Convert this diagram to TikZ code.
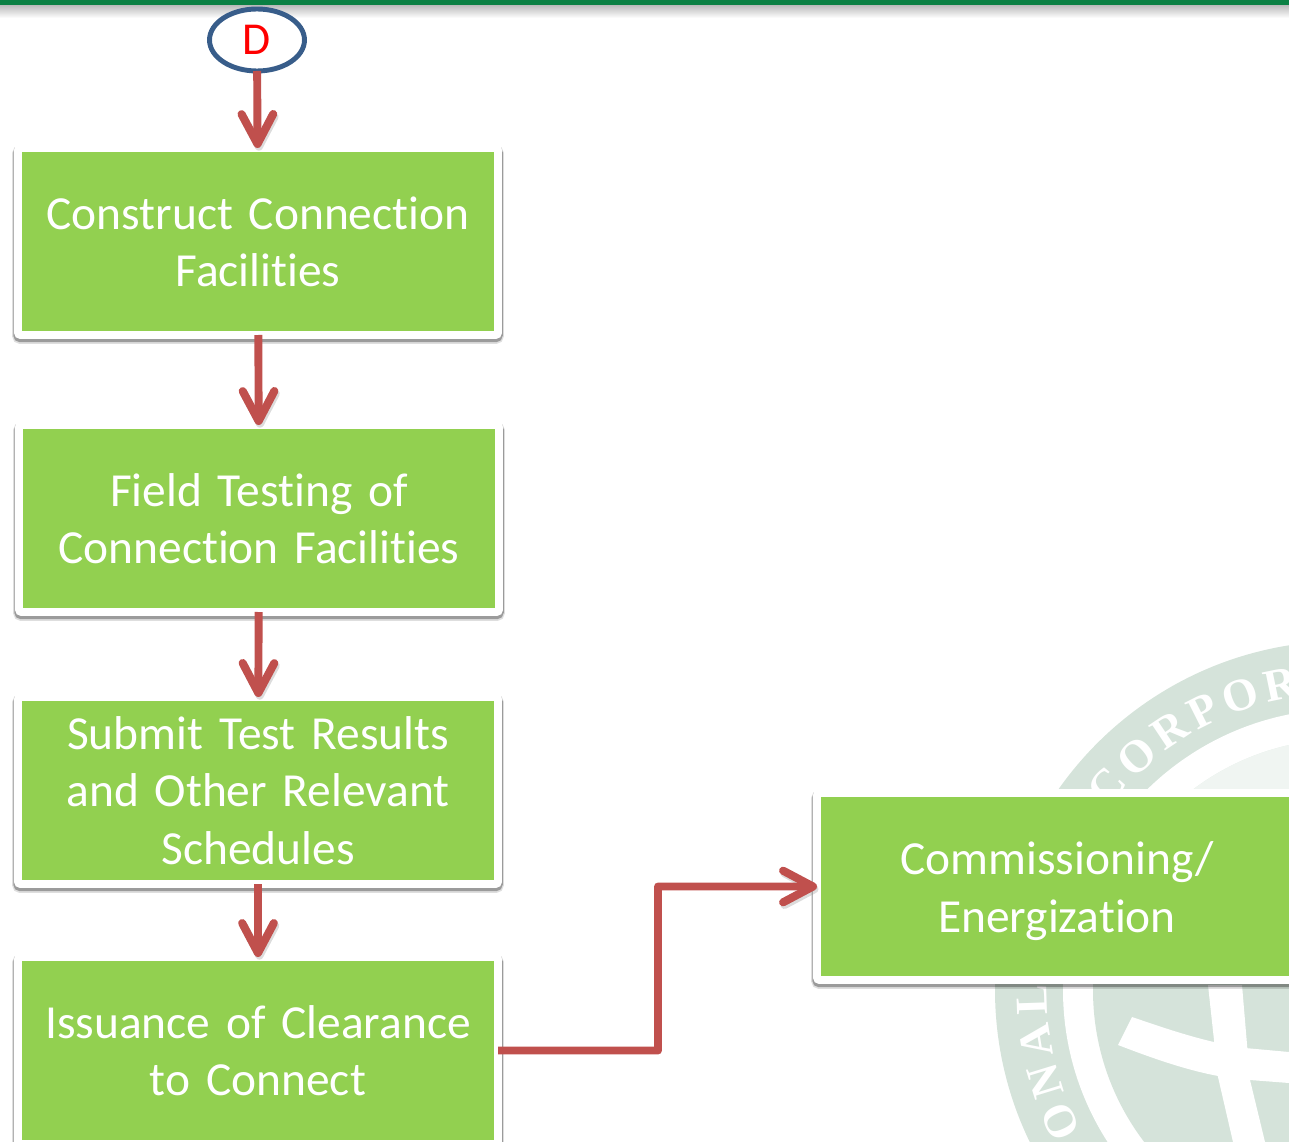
\documentclass[tikz,border=0pt]{standalone}
\usepackage{fontspec}
\setmainfont{Carlito}[Ligatures=NoCommon, WordSpace=0.75]
\newfontfamily\sealfont{Liberation Serif}
\usetikzlibrary{arrows.meta}
\usetikzlibrary{shapes}
\usetikzlibrary{decorations.text}
\definecolor{boxgreen}{HTML}{92D050}
\definecolor{linkred}{HTML}{C0504D}
\definecolor{ovalblue}{HTML}{385D8A}
\definecolor{bandgreen}{HTML}{0B8043}
\definecolor{sealgreen}{HTML}{D5E3DA}
\tikzstyle{block} = [draw=white, fill=boxgreen, rectangle, line width=4.5pt,
    rounded corners=1.5pt, outer sep=0pt, minimum height=3.74cm, minimum width=9.6cm,
    text width=9.2cm, align=center, text=white,
    font=\fontsize{27}{32.6}\selectfont,
    preaction={draw=black, line width=6.6pt, opacity=.13, transform canvas={yshift=-1.8pt}},
    preaction={draw=black, line width=5.4pt, opacity=.3, transform canvas={yshift=-1.4pt}}]
\tikzstyle{link} = [draw=linkred, line width=4.5pt, line join=round,
    -{Straight Barb[length=17pt, width=18pt, line cap=round, round, line width=4.6pt]},
    preaction={draw=black!45, opacity=.3, transform canvas={xshift=.8pt, yshift=-1.5pt}}]
\tikzstyle{connector} = [draw=ovalblue, fill=white, ellipse, line width=2.8pt, outer sep=0pt,
    minimum width=1.9cm, minimum height=1.24cm, inner sep=0pt, text=red,
    font=\fontsize{26}{28}\selectfont]

\begin{document}
\begin{tikzpicture}[node distance=5.54cm,>=latex]
    \clip (0,0) rectangle (25.78,-22.84);
    % seal behind the flow
    \fill [sealgreen] (26.88,-19.8) circle (6.98cm);
    \fill [white] (26.88,-19.8) circle (5.62cm);
    \fill [sealgreen] (26.88,-19.8) circle (5.02cm);
    \begin{scope}
        \clip (20,-12) rectangle (25.78,-15.9);
        \fill [white, opacity=.65] (26.88,-19.8) circle (5.02cm);
    \end{scope}
    \fill [white] (24.16,-19.7) -- (24.84,-19.7) -- (25,-21.6) -- (25.3,-22.84) -- (24.66,-22.84) -- (24.36,-21.54) -- cycle;
    \fill [white] (22.64,-20.34) -- (22.36,-20.9) .. controls (23.4,-21.3) and (24.2,-21.55) .. (25,-21.6)
        -- (25.78,-21.66) -- (25.78,-21.04) -- (24.9,-20.96) .. controls (24.1,-20.84) and (23.4,-20.6) .. (22.64,-20.34) -- cycle;
    \path [decorate, decoration={text along path, text align=fit to path,
        text={|\fontsize{26}{26}\sealfont\bfseries\color{white}|CORPOR}}]
        (26.88,-19.8) ++(142.5:5.95cm) arc (142.5:98.5:5.95cm);
    \path [decorate, decoration={text along path, text align=fit to path,
        text={|\fontsize{26}{26}\sealfont\bfseries\color{white}|ONAL}}]
        (26.88,-19.8) ++(208.4:5.95cm) arc (208.4:178.9:5.95cm);
    % top band
    \fill [bandgreen] (0,0) rectangle (25.78,-.12);
    \shade [top color=black!25, bottom color=white] (0,-.12) rectangle (25.78,-.36);
    % flow
    \node [connector] (start) at (5.14,-.8) {D};
    \node [block] (construct) at (5.16,-4.83) {Construct Connection\\Facilities};
    \node [block, below of=construct, xshift=.02cm] (testing) {Field Testing of\\Connection Facilities};
    \node [block, below of=testing, xshift=-.02cm, node distance=5.44cm] (results) {Submit Test Results\\and Other Relevant\\Schedules};
    \node [block, below of=results, node distance=5.2cm] (clearance) {Issuance of Clearance\\to Connect};
    \node [block, right of=results, node distance=15.98cm, yshift=-1.92cm] (energize) {\rule{0pt}{24pt}Commissioning/\\Energization};
    \coordinate (bend) at (13.16,-17.73);
    \draw [link] (start) -- (construct);
    \draw [link] (construct) -- (testing);
    \draw [link] (testing) -- (results);
    \draw [link] (results) -- (clearance);
    \draw [link] (clearance.east) -| (bend) -- (energize.west);
\end{tikzpicture}
\end{document}
